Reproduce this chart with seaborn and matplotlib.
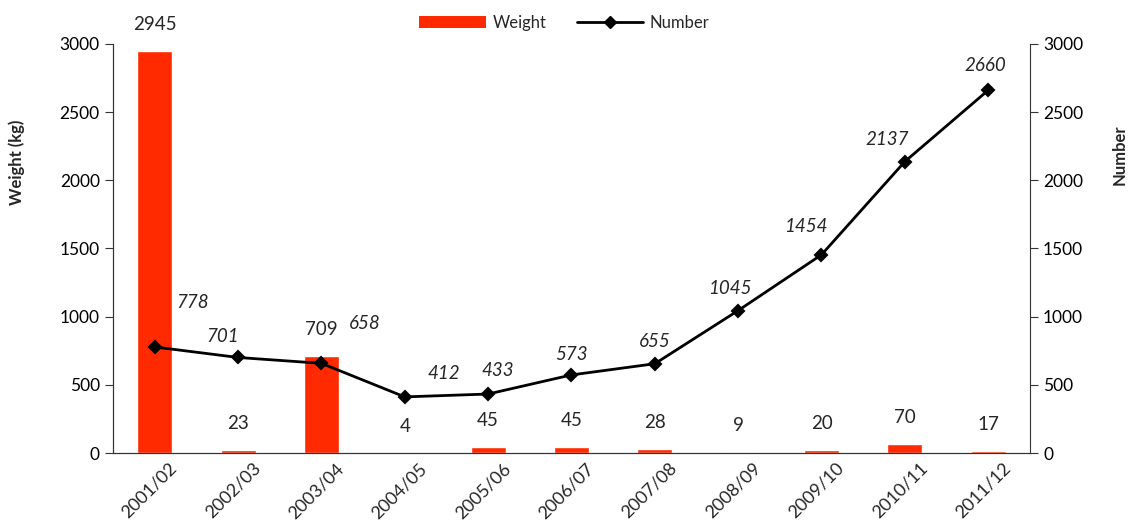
import numpy as np
import pandas as pd
import matplotlib
matplotlib.use("Agg")
import matplotlib.pyplot as plt
import seaborn as sns
from matplotlib.patches import Patch
from matplotlib.lines import Line2D

# data
seasons = ["2001/02", "2002/03", "2003/04", "2004/05", "2005/06", "2006/07",
           "2007/08", "2008/09", "2009/10", "2010/11", "2011/12"]
weight = [2945, 23, 709, 4, 45, 45, 28, 9, 20, 70, 17]
number = [778, 701, 658, 412, 433, 573, 655, 1045, 1454, 2137, 2660]

# label offsets for the number labels (points)
num_offsets = [(27, 32), (-11, 15), (31, 29), (28, 17), (7, 17), (0, 15),
               (0, 16), (-6, 16), (-11, 20), (-13, 16), (-2, 18)]

sns.set_style("white")
plt.rcParams['font.family'] = ['Lato', 'DejaVu Sans']

df = pd.DataFrame({"Season": seasons, "Weight": weight, "Number": number})

fig = plt.figure(figsize=(11.29, 5.22), dpi=100)
ax = fig.add_axes([0.1001, 0.132, 0.8121, 0.784])

red = "#FF2A00"
sns.barplot(data=df, x="Season", y="Weight", color=red, width=0.42,
            saturation=1, ax=ax)

ax2 = ax.twinx()
sns.pointplot(data=df, x="Season", y="Number", color="black", markers="D",
              markersize=6.5, linewidth=2, ax=ax2)

for a in (ax, ax2):
    a.set_ylim(0, 3000)
    a.set_yticks(range(0, 3001, 500))
    a.set_xlim(-0.5, len(seasons) - 0.5)
    a.spines["top"].set_visible(False)
    a.grid(False)

for s in ("left", "right", "bottom"):
    ax2.spines[s].set_color("#333333")
    ax.spines[s].set_color("#333333")
ax.spines["right"].set_visible(False)

ax.tick_params(axis="y", direction="out", length=6, labelsize=12.5, colors="black")
ax2.tick_params(axis="y", direction="out", length=6, labelsize=12.5, colors="black")
ax.yaxis.set_tick_params(color="#333333")
ax2.yaxis.set_tick_params(color="#333333")

# season labels sit a little right of the bar centre, as in the original
ax.set_xticks(np.arange(len(seasons)) + 0.17)
ax.set_xticklabels(seasons, rotation=45, ha="right", rotation_mode="anchor", fontsize=13)
ax.tick_params(axis="x", which="major", length=0, pad=5)
ax.set_xticks(np.arange(-0.5, len(seasons), 1.0), minor=True)
ax.tick_params(axis="x", which="minor", length=8, direction="inout", color="#333333")

ax.set_xlabel("")
ax.set_ylabel("Weight (kg)", fontsize=12, fontweight="bold")
ax2.set_ylabel("Number", fontsize=12, fontweight="bold", rotation=90)
ax.yaxis.set_label_coords(-0.105, 0.711)
ax2.yaxis.set_label_coords(1.098, 0.729)
for lab in (ax.yaxis.label, ax2.yaxis.label):
    lab.set_va("center")
    lab.set_ha("center")

for i, w in enumerate(weight):
    ax.annotate(str(w), (i, w), xytext=(0, 19), textcoords="offset points",
                ha="center", va="center", fontsize=13.5)

for i, (n, off) in enumerate(zip(number, num_offsets)):
    ax2.annotate(str(n), (i, n), xytext=off, textcoords="offset points",
                 ha="center", va="center", fontsize=13.5, style="italic")

handles = [Patch(facecolor=red, edgecolor="none"),
           Line2D([0], [0], color="black", linewidth=2, marker="D", markersize=6)]
fig.legend(handles, ["Weight", "Number"], loc="upper center",
           bbox_to_anchor=(0.5, 1.0), ncol=2, frameon=False, fontsize=12,
           handlelength=4, columnspacing=1.8, handletextpad=0.4)

fig.savefig("out.png", dpi=100)
